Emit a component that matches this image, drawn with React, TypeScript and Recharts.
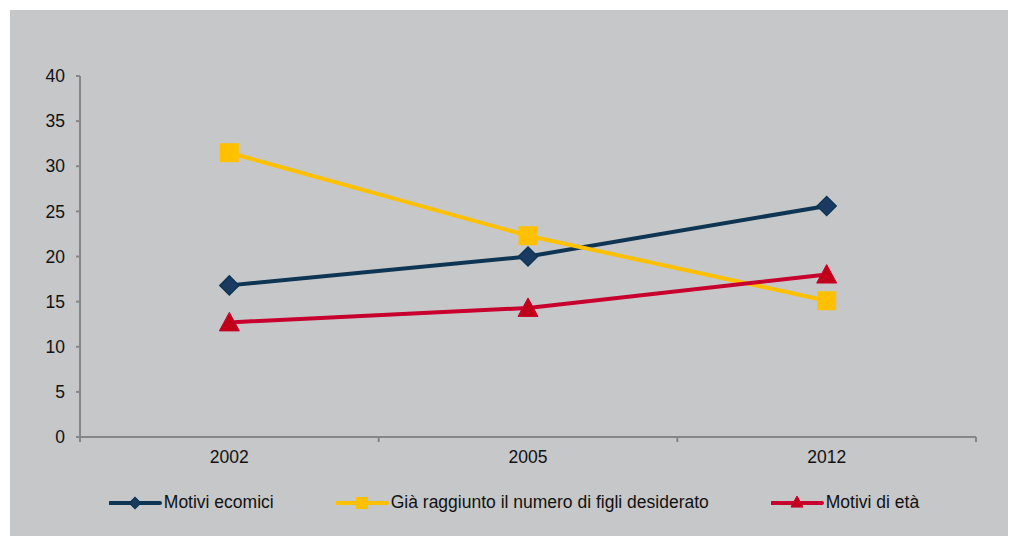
import React from "react";
import { LineChart, Line, XAxis, YAxis } from "recharts";

const years = ["2002", "2005", "2012"];
const economic = [16.8, 20.0, 25.6];
const desired = [31.5, 22.3, 15.1];
const age = [12.7, 14.3, 18.0];
const yTicks = [0, 5, 10, 15, 20, 25, 30, 35, 40];

const seriesNames = [
  "Motivi ecomici",
  "Già raggiunto il numero di figli desiderato",
  "Motivi di età",
];

const data = years.map((year, i) => ({
  year,
  economic: economic[i],
  desired: desired[i],
  age: age[i],
}));

const FONT = "'Liberation Sans', Arial, sans-serif";
const FS = 17.5;
const AXIS = "#868686";
const NAVY = "#0E3553";
const NAVY_FILL = "#1B3A62";
const YELLOW = "#FFC000";
const RED = "#C8002E";
const RED_FILL = "#C00018";

const W = 998;
const H = 526;
const MARGIN = { top: 66, right: 32, left: 0, bottom: 69 };
const Y_W = 70;
const PLOT_W = W - MARGIN.left - MARGIN.right - Y_W;

const Diamond = ({ cx, cy, r, fill, stroke }: any) => (
  <path
    d={`M${cx},${cy - r} L${cx + r},${cy} L${cx},${cy + r} L${cx - r},${cy} Z`}
    fill={fill}
    stroke={stroke}
    strokeWidth={1.5}
  />
);

const Square = ({ cx, cy, r, fill }: any) => (
  <rect x={cx - r} y={cy - r} width={r * 2} height={r * 2} fill={fill} />
);

const Triangle = ({ cx, cy, r, fill }: any) => (
  <path
    d={`M${cx},${cy - r} L${cx + r},${cy + r * 0.85} L${cx - r},${cy + r * 0.85} Z`}
    fill={fill}
    stroke={RED}
    strokeWidth={1}
  />
);

// category labels centred in each band, tick marks on the band edges
const XTick = ({ x, y, payload, index }: any) => {
  const half = PLOT_W / years.length / 2;
  return (
    <g>
      <line x1={x + half} y1={y} x2={x + half} y2={y + 5} stroke={AXIS} strokeWidth={2} />
      {index === 0 && (
        <line x1={x - half} y1={y} x2={x - half} y2={y + 5} stroke={AXIS} strokeWidth={2} />
      )}
      <text x={x} y={y + 26} textAnchor="middle" fontSize={FS} fill="#111" fontFamily={FONT}>
        {payload.value}
      </text>
    </g>
  );
};

const legendMarkers = [
  { color: NAVY, marker: <Diamond cx={26} cy={8} r={5.5} fill={NAVY_FILL} stroke={NAVY} /> },
  { color: YELLOW, marker: <Square cx={26} cy={8} r={6} fill={YELLOW} /> },
  { color: RED, marker: <Triangle cx={26} cy={7} r={6} fill={RED_FILL} /> },
];

export default function App() {
  return (
    <div
      style={{
        position: "absolute",
        left: 0,
        top: 0,
        width: 1009,
        height: 536,
        background: "#fff",
      }}
    >
      <div
        style={{
          position: "absolute",
          left: 10,
          top: 10,
          width: W,
          height: H,
          background: "#C6C7C9",
          fontFamily: FONT,
        }}
      >
        <LineChart width={W} height={H} data={data} margin={MARGIN}>
          <XAxis
            dataKey="year"
            scale="band"
            axisLine={{ stroke: AXIS, strokeWidth: 2 }}
            tickLine={false}
            tickSize={0}
            tickMargin={0}
            height={30}
            tick={<XTick />}
            interval={0}
          />
          <YAxis
            domain={[0, 40]}
            ticks={yTicks}
            width={Y_W}
            axisLine={{ stroke: AXIS, strokeWidth: 2 }}
            tickLine={{ stroke: AXIS, strokeWidth: 2 }}
            tickSize={4}
            tickMargin={11}
            tick={{ fontSize: FS, fill: "#111", fontFamily: FONT }}
            interval={0}
          />
          <Line
            dataKey="economic"
            stroke={NAVY}
            strokeWidth={4}
            isAnimationActive={false}
            dot={(p: any) => (
              <Diamond key={`d${p.index}`} cx={p.cx} cy={p.cy} r={9.5} fill={NAVY_FILL} stroke={NAVY} />
            )}
            activeDot={false}
          />
          <Line
            dataKey="desired"
            stroke={YELLOW}
            strokeWidth={4}
            isAnimationActive={false}
            dot={(p: any) => <Square key={`s${p.index}`} cx={p.cx} cy={p.cy} r={9.5} fill={YELLOW} />}
            activeDot={false}
          />
          <Line
            dataKey="age"
            stroke={RED}
            strokeWidth={4}
            isAnimationActive={false}
            dot={(p: any) => <Triangle key={`t${p.index}`} cx={p.cx} cy={p.cy} r={10} fill={RED_FILL} />}
            activeDot={false}
          />
        </LineChart>
        <div
          style={{
            position: "absolute",
            left: 0,
            top: 482,
            width: W,
            display: "flex",
            justifyContent: "center",
            gap: 62,
            paddingLeft: 10,
            boxSizing: "border-box",
          }}
        >
          {seriesNames.map((name, i) => (
            <div key={name} style={{ display: "flex", alignItems: "center" }}>
              <svg width={54} height={16}>
                <line x1={1} y1={8} x2={51} y2={8} stroke={legendMarkers[i].color} strokeWidth={4} strokeLinecap="round" />
                {legendMarkers[i].marker}
              </svg>
              <span style={{ fontSize: FS, color: "#111", marginLeft: 1 }}>{name}</span>
            </div>
          ))}
        </div>
      </div>
    </div>
  );
}
